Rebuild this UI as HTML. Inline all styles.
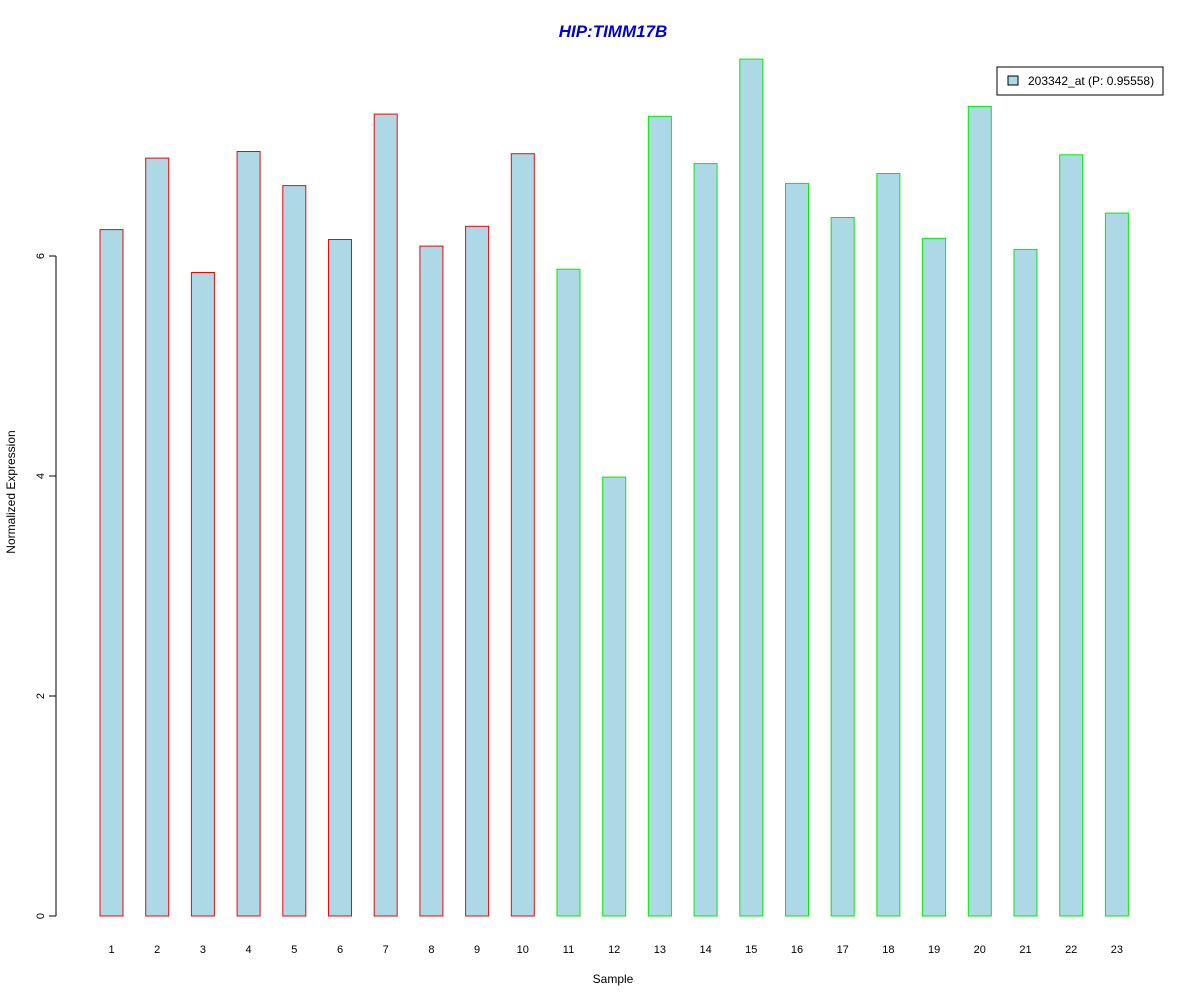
<!DOCTYPE html>
<html><head><meta charset="utf-8"><style>
body{margin:0;background:#fff}
svg{display:block;font-family:"Liberation Sans",sans-serif}
</style></head><body>
<svg id="chart" width="1200" height="1000">
<text x="613" y="37" text-anchor="middle" font-size="17" font-weight="bold" font-style="italic" fill="#0000dd">HIP:TIMM17B</text>
<g id="yaxis"></g>
<g id="bars"></g>
<g id="xlabels"></g>
<text x="613" y="983" text-anchor="middle" font-size="12">Sample</text>
<text transform="translate(15,492) rotate(-90)" text-anchor="middle" font-size="12">Normalized Expression</text>
<g>
<rect x="997" y="67" width="166" height="28" fill="#fff" stroke="#000"/>
<rect x="1008" y="76" width="10" height="9" fill="#add8e6" stroke="#000"/>
<text x="1028" y="85" font-size="12">203342_at (P: 0.95558)</text>
</g>
</svg>
<script>
const categories=["1","2","3","4","5","6","7","8","9","10","11","12","13","14","15","16","17","18","19","20","21","22","23"];
const values=[6.24,6.89,5.85,6.95,6.64,6.15,7.29,6.09,6.27,6.93,5.88,3.99,7.27,6.84,7.79,6.66,6.35,6.75,6.16,7.36,6.06,6.92,6.39];
const groups=["a","a","a","a","a","a","a","a","a","a","b","b","b","b","b","b","b","b","b","b","b","b","b"];
const yTicks=[0,2,4,6];
const NS="http://www.w3.org/2000/svg";
const y=v=>916-v*110;
const x=i=>111.5+i*45.7;
function mk(t,a,p){const e=document.createElementNS(NS,t);for(const k in a)e.setAttribute(k,a[k]);p.appendChild(e);return e;}
const ya=document.getElementById('yaxis');
const ax=mk('line',{x1:56,x2:56,y1:y(0),y2:y(6),stroke:'#000'},ya);


yTicks.forEach(t=>{
 const l=mk('line',{x1:49,x2:56,y1:y(t),y2:y(t),stroke:'#000'},ya);
 
 
 const tx=mk('text',{transform:`translate(44,${y(t)}) rotate(-90)`,'text-anchor':'middle','font-size':11},ya);
 tx.textContent=t;
 
 
});
const bg=document.getElementById('bars'),xl=document.getElementById('xlabels');
values.forEach((v,i)=>{
 const r=mk('rect',{x:x(i)-11.5,y:y(v),width:23,height:y(0)-y(v),fill:'#add8e6',stroke:groups[i]==='a'?'#ff0000':'#00ee00'},bg);
 
 
 const t=mk('text',{x:x(i),y:953,'text-anchor':'middle','font-size':11},xl);
 t.textContent=categories[i];
 
 
});
</script>
</body></html>
